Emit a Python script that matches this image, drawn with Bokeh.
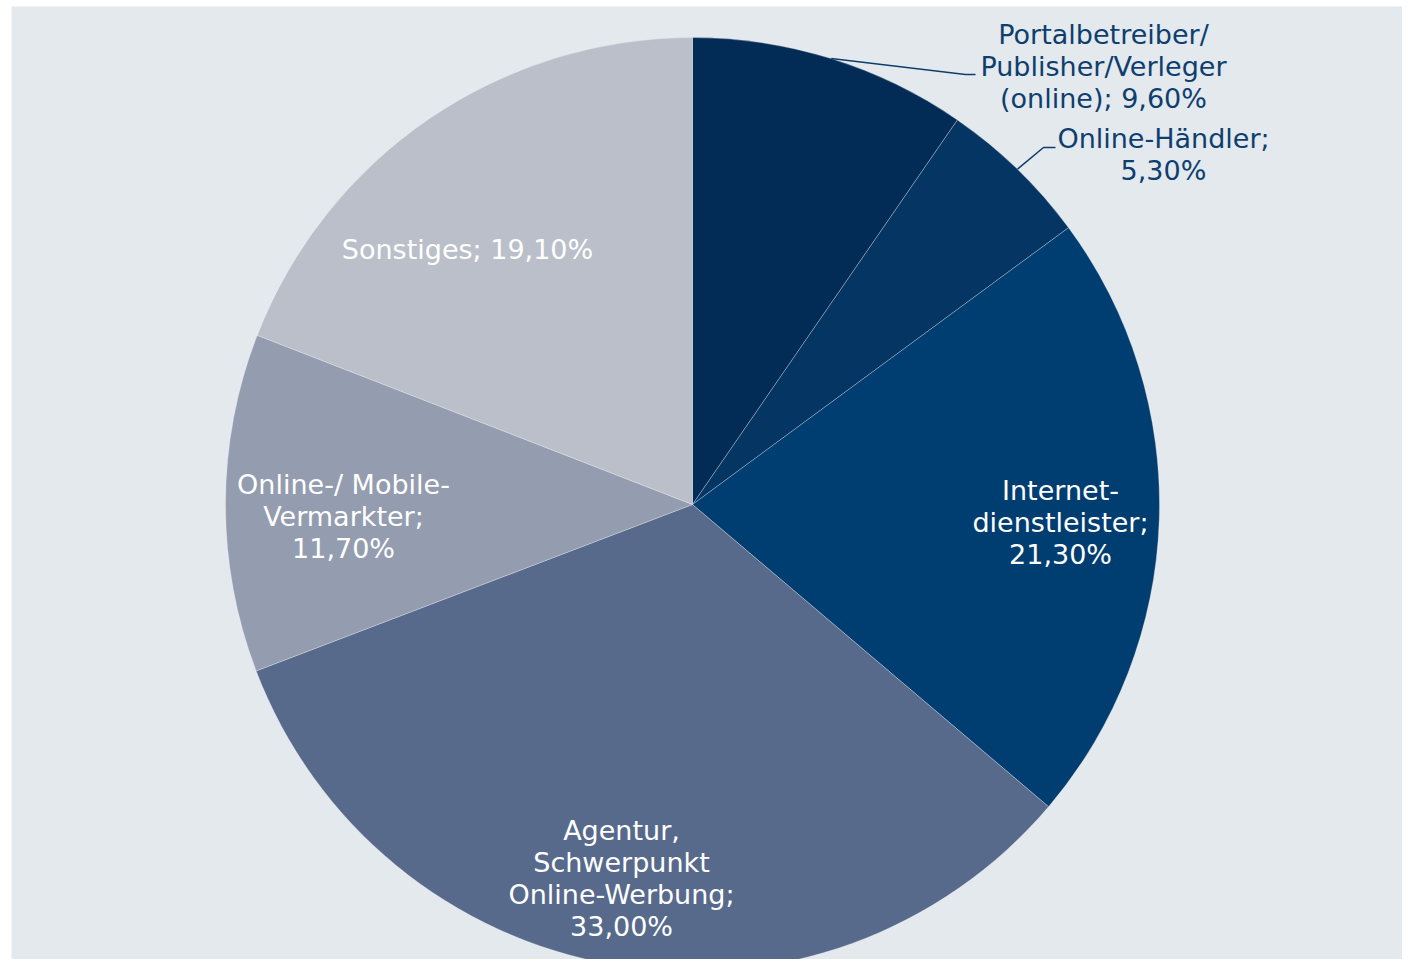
import numpy as np
from bokeh.plotting import figure
from bokeh.models import Range1d
from bokeh.core.properties import value
from bokeh.embed import file_html
from bokeh.resources import INLINE

# ---- data ----
categories = ["Portalbetreiber/Publisher/Verleger (online)", "Online-Händler",
              "Internetdienstleister", "Agentur, Schwerpunkt Online-Werbung",
              "Online-/ Mobile-Vermarkter", "Sonstiges"]
label_lines = [["Portalbetreiber/", "Publisher/Verleger", "(online)"],
               ["Online-Händler"],
               ["Internet-", "dienstleister"],
               ["Agentur,", "Schwerpunkt", "Online-Werbung"],
               ["Online-/ Mobile-", "Vermarkter"],
               ["Sonstiges"]]
value_on_new_line = [False, True, True, True, True, False]
shares = [9.6, 5.3, 21.3, 33.0, 11.7, 19.1]
colors = ["#022C55", "#053562", "#003D71", "#576A8C", "#949CAF", "#BBBFC9"]

# ---- layout ----
W, H = 1402, 959
LEFT, TOP = 11, 6
FW, FH = W - LEFT, H - TOP
def fx(ix): return ix - LEFT
def fy(iy): return H - iy

cx, cy, R = fx(692), fy(504), 467
label_pos = [(1103, 66), (1163, 154), (1060, 522), (621, 878), (343, 516), (467, 249)]
outside = [True, True, False, False, False, False]
elbow = [(965, 74), (1043, 147)]
elbow_end = [(975, 74), (1055, 147)]
FS = 27
LH = 32

p = figure(width=W, height=H, output_backend="svg", toolbar_location=None,
           x_range=Range1d(0, FW), y_range=Range1d(0, FH),
           min_border_left=LEFT, min_border_top=TOP, min_border_right=0, min_border_bottom=0,
           background_fill_color="#E4E9EE", border_fill_color="white")
p.axis.visible = False
p.grid.visible = False
p.outline_line_color = None

vals = np.array(shares)
frac = vals / vals.sum()
cum = np.concatenate([[0], np.cumsum(frac)])
start = np.pi / 2 - 2 * np.pi * cum[:-1]
end = np.pi / 2 - 2 * np.pi * cum[1:]

p.wedge(x=[cx] * len(vals), y=[cy] * len(vals), radius=R,
        start_angle=start, end_angle=end, direction="clock",
        fill_color=colors, line_color="white", line_alpha=0.35, line_width=0.8)

# leader lines for outside labels
k = 0
for i in range(len(vals)):
    if outside[i]:
        mid = (start[i] + end[i]) / 2
        sx, sy = cx + R * np.cos(mid), cy + R * np.sin(mid)
        ex, ey = elbow[k]
        hx, hy = elbow_end[k]
        p.line([sx, fx(ex), fx(hx)], [sy, fy(ey), fy(hy)], line_color="#0E3E6E", line_width=1.5)
        k += 1

xs, ys, txt, tc = [], [], [], []
for i in range(len(vals)):
    pct = f"{shares[i]:.2f}%".replace(".", ",")
    lines = list(label_lines[i])
    if value_on_new_line[i]:
        lines[-1] = lines[-1] + ";"
        lines.append(pct)
    else:
        lines[-1] = lines[-1] + "; " + pct
    n = len(lines)
    lx, ly = label_pos[i]
    for j, ln in enumerate(lines):
        xs.append(fx(lx))
        ys.append(fy(ly) + (n - 1) / 2 * LH - j * LH)
        txt.append(ln)
        tc.append("#0E3E6E" if outside[i] else "#FFFFFF")

p.text(x=xs, y=ys, text=txt, text_color=tc, text_align="center", text_baseline="middle",
       text_font=value("DejaVu Sans"), text_font_size=f"{FS}px")

open("out.html", "w").write(file_html(p, INLINE))
